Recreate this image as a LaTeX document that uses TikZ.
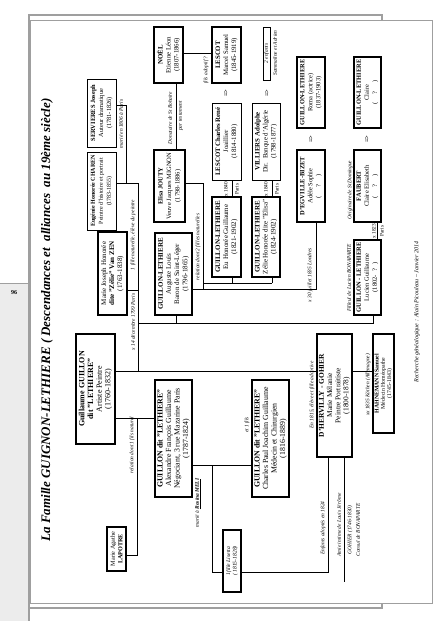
\documentclass[tikz,border=0pt]{standalone}
\usepackage{fontspec}
\setmainfont{Liberation Serif}
\usetikzlibrary{backgrounds}
\newcommand\mybox[7]{%
  \node[bx,#6,minimum width={(#5-#3)*1pt},minimum height={(#4-#2)*1pt}] (#1) at ({(#2+#4)/2},{(#3+#5)/2}) {#7};}
\begin{document}
\begin{tikzpicture}[x=1pt,y=-1pt,
  fs/.style 2 args={font=\fontsize{#1}{#2}\selectfont},
  bx/.style={draw, rotate=90, align=center, fill=white, inner sep=0.3pt},
  thk/.style={line width=1.8pt},
  med/.style={line width=1.1pt},
  thn/.style={line width=0.6pt},
  lab/.style={rotate=90, font=\fontsize{5.4}{6.5}\selectfont\itshape, inner sep=0pt},
  ln/.style={line width=0.6pt},
  arr/.style={rotate=90, font=\fontsize{6.5}{7}\selectfont\bfseries},
  frm/.style={draw=gray!75, line width=1.4pt},
  frt/.style={draw=gray!75, line width=0.7pt}]
\useasboundingbox (0,0) rectangle (444,621);
% page frame
\fill[gray!15] (0,283) rectangle (28,621);
\draw[frt] (0,283) -- (28,283);
\node[font=\fontsize{6}{7}\selectfont\bfseries] (pg) at (14,293) {96};
\draw[frm] (29,621) -- (29,15) -- (382,15) -- (382,20);
\draw[frm] (29,608) -- (382,608) -- (382,603);
\draw[frt] (30,20) rectangle (432,603);
% title and footer
\node[rotate=90, font=\fontsize{13}{14}\selectfont\bfseries\itshape] (title) at (47,320) {La Famille GUIGNON-LETHIERE ( Descendances et \ alliances \ au 19ème siècle)};
\node[lab, font=\fontsize{6}{7}\selectfont\itshape] (foot) at (417,312) {Recherche généalogique : Alain Picouleau -- Janvier 2014};
% boxes
\mybox{serv}{87}{79}{116}{147}{thn,fs={6.4}{8}}{\textbf{SERVIERES Joseph}\\ Auteur dramatique\\ (1781-1826)}
\mybox{eug}{87}{152}{116}{230}{thn,fs={6}{8}}{\textbf{Eugénie Honorée CHAREN}\\ Peintre d'histoire et portrait\\ (1783-1855)}
\mybox{marie}{98}{232}{127}{315}{thk,fs={7}{8}}{Marie Joseph Honorée\\ \textbf{dite "Zélie" Van ZEN}\\ (1763-1838)}
\mybox{guil}{76}{334}{115}{444}{thk,fs={8}{8.7}}{\textbf{Guillaume GUILLON}\\ \textbf{dit "LETHIERE"}\\ Artiste Peintre\\ (1760-1832)}
\mybox{lap}{107}{527}{126}{571}{thk,fs={6.2}{7.5}}{Marie Agathe\\ \textbf{LAPOTRE}}
\mybox{noel}{154}{27}{183}{83}{thk,fs={6.8}{8}}{\textbf{NOËL}\\ Etienne Léon\\ (1807-1866)}
\mybox{elisa}{154}{150}{185}{222}{thk,fs={6.5}{8.5}}{\textbf{Elisa JOUTY}\\ Veuve Jacques MIGNON\\ (1798-1886)}
\mybox{aug}{155}{233}{192}{315}{med,fs={7}{8.2}}{\textbf{GUILLON-LETHIERE}\\ Auguste Louis\\ Baron de Saint-Léger\\ (1796-1865)}
\mybox{alex}{155}{380}{192}{497}{med,fs={7.8}{8.5}}{\textbf{GUILLON dit "LETHIERE"}\\ Alexandre François Guillaume\\ Négociant, 3 rue Mazarine Paris\\ (1787-1824)}
\mybox{lescm}{212}{27}{241}{83}{thk,fs={6.8}{8}}{\textbf{LESCOT}\\ Marcel Samuel\\ (1845-1919)}
\mybox{lescc}{212}{103}{241}{180}{thn,fs={6.8}{8}}{\textbf{LESCOT Charles René}\\ Joaillier\\ (1814-1880)}
\mybox{eu}{212}{197}{241}{277}{thk,fs={7}{8}}{\textbf{GUILLON-LETHIERE}\\ Eu Honorée Guillaume\\ (1821-1902)}
\mybox{enf}{263}{27}{270}{80}{thn,inner sep=0pt,fs={5.4}{6}}{\textit{2 enfants}}
\mybox{vill}{252}{103}{280}{180}{thn,fs={6.8}{8}}{\textbf{VILLIERS Adolphe}\\ Dir. \ Banque d'Algérie\\ (1798-1877)}
\mybox{zel}{252}{197}{280}{277}{thk,fs={7}{8}}{\textbf{GUILLON-LETHIERE}\\ Zélie Honorée dite "Elisa"\\ (1824-1902)}
\mybox{charl}{252}{380}{289}{497}{med,fs={7.8}{8.5}}{\textbf{GUILLON dit "LETHIERE"}\\ Charles Paul Joachim Guillaume\\ Médecin et Chirurgien\\ (1816-1889)}
\mybox{roma}{297}{57}{325}{128}{thk,fs={6.4}{8}}{\textbf{GUILLON-LETHIERE}\\ Roma (actrice)\\ (1837-1903)}
\mybox{degv}{297}{150}{325}{222}{thk,fs={6.5}{8}}{\textbf{D'EGVILLE-BIZET}\\ Adèle Sophie\\ ( \quad ? \quad )}
\mybox{dherv}{317}{334}{352}{457}{thk,fs={7.4}{8.2}}{\textbf{D'HERVILLY - GOHIER}\\ Marie Mélanie\\ Peintre Portraitiste\\ (1800-1878)}
\mybox{claire}{354}{57}{381}{128}{thk,fs={6.4}{8}}{\textbf{GUILLON-LETHIERE}\\ Claire\\ ( \quad ? \quad )}
\mybox{faub}{354}{150}{381}{222}{thk,fs={6.5}{8}}{\textbf{FAUBERT}\\ Claire Elisabeth\\ ( \quad ? \quad )}
\mybox{luc}{354}{240}{381}{315}{thk,fs={6.5}{8}}{\textbf{GUILLON - LETHIERE}\\ Lucien Guillaume\\ (1802- \ ? \ )}
\mybox{hahn}{373}{334}{394}{433}{thk,fs={5.8}{6.3}}{\textbf{HAHNEMANN Samuel}\\ Médecin Homéopathe\\ (1745-1843)}
\mybox{fille}{223}{530}{241}{592}{thk,fs={5.6}{6.4}}{\textit{1fille Lisetta}\\ \textit{( 1815-1828)}}
% named junctions
\coordinate (jA) at (126,183);
\coordinate (jB) at (138,183);
\coordinate (jC) at (138,371);
\coordinate (jD) at (138,290);
\coordinate (jE) at (138,323);
\coordinate (jF) at (373,323);
\coordinate (jG) at (137,555);
\coordinate (jH) at (137,418);
\coordinate (jI) at (212,465);
\coordinate (jJ) at (212,572);
\coordinate (jK) at (328,572);
\coordinate (jL) at (344,582);
\coordinate (jM) at (203,183);
\coordinate (jN) at (203,289);
\coordinate (jO) at (316,289);
\coordinate (jP) at (203,283);
\coordinate (jQ) at (272,283);
\coordinate (jR) at (232,283);
\coordinate (jS) at (126,105);
\coordinate (jT) at (176,323);
% connectors
\begin{scope}[on background layer]
\draw[ln] (guil.south |- jC) -- (dherv.north |- jC);
\draw[ln] (dherv.south |- jC) -- (hahn.north |- jC);
\draw[ln] (serv.south |- jS) -- (jS) -- (jA);
\draw[ln] (eug.south |- jB) -- (jB) -- (jC);
\draw[ln] (marie.south |- jD) -- (jD);
\draw[ln] (jE) -- (jF) -- (luc.west -| jF);
\draw[ln] (aug.west -| jT) -- (jT);
\draw[ln] (guil.south |- jH) -- (alex.north |- jH);
\draw[ln] (lap.south |- jG) -- (jG) -- (jH);
\draw[ln] (alex.south |- jI) -- (jI) -- (jJ) -- (jK) -- (dherv.west -| jK);
\draw[ln] (jI) -- (charl.north |- jI);
\draw[ln] (dherv.west -| jL) -- (jL);
\draw[ln] (noel.west -| jT) -- (elisa.east -| jT);
\draw[ln] (noel.south |- 0,53) -- (lescm.north |- 0,53);
\draw[ln] (elisa.south |- jM) -- (jM) -- (jN);
\draw[ln] (aug.south |- jN) -- (jO) -- (degv.west -| jO);
\draw[ln] (jP) -- (jQ);
\draw[ln] (eu.west -| jR) -- (jR);
\draw[ln] (zel.west -| jQ) -- (jQ);
\draw[ln] (lescc.west -| jR) -- (eu.east -| jR);
\draw[ln] (vill.west -| jQ) -- (zel.east -| jQ);
\draw[ln] (faub.west -| 377,0) -- (luc.east -| 377,0);
\end{scope}
% arrows
\node[arr] (a1) at (226,93) {=>};
\node[arr] (a2) at (267,93) {=>};
\node[arr] (a3) at (311,139) {=>};
\node[arr] (a4) at (367,139) {=>};
% labels
\node[lab] (t1) at (121,124) {marié en 1806 à Paris};
\node[lab] (t2) at (133,235) {1 fille naturelle, élève du peintre};
\node[lab] (t3) at (133,322) {x 14 décembre 1799 Paris};
\node[lab] (t4) at (132,445) {relation dont 1 fils naturel};
\node[lab] (t5) at (170,118) {Donataire de St Bohaire};
\node[lab] (t6) at (181,116) {par testament};
\node[lab] (t7) at (206,70) {fils adoptif ?};
\node[lab] (t8) at (275,53) {Sammaline et Adrien};
\node[lab] (t9) at (198,247) {relation dont 2 filles naturelles};
\node[lab,font=\fontsize{5.3}{6.5}\selectfont] (t10) at (226,189) {x 1840};
\node[lab,font=\fontsize{5.3}{6.5}\selectfont] (t11) at (237,189) {Paris};
\node[lab,font=\fontsize{5.3}{6.5}\selectfont] (t12) at (266,189) {x 1840};
\node[lab,font=\fontsize{5.3}{6.5}\selectfont] (t13) at (277,189) {Paris};
\node[lab] (t14) at (310,275) {x 30 juillet 1835 Londres};
\node[lab] (t15) at (350,190) {Originaire de St Domingue};
\node[lab] (t16) at (349,278) {Filleul de Lucien BONAPARTE};
\node[lab,font=\fontsize{5.3}{6.5}\selectfont] (t17) at (374,231) {x 1823};
\node[lab,font=\fontsize{5.3}{6.5}\selectfont] (t18) at (382,231) {Paris};
\node[lab] (t19) at (198,503) {marié à \textbf{\underline{Rosina MELI}}};
\node[lab] (t20) at (247,425) {et 1 fils};
\node[lab] (t21) at (312,395) {En 1815, élève et fille adoptive};
\node[lab] (t22) at (323,528) {Enfants adoptés en 1824};
\node[lab] (t23) at (339,525) {Amie intime de Louis Jérôme};
\node[lab] (t24) at (350,530) {GOHIER (1746-1830)};
\node[lab] (t25) at (358,530) {Consul de BONAPARTE};
\node[lab] (t26) at (368,385) {xx 1835 Köthen (Allemagne)};
\end{tikzpicture}
\end{document}
